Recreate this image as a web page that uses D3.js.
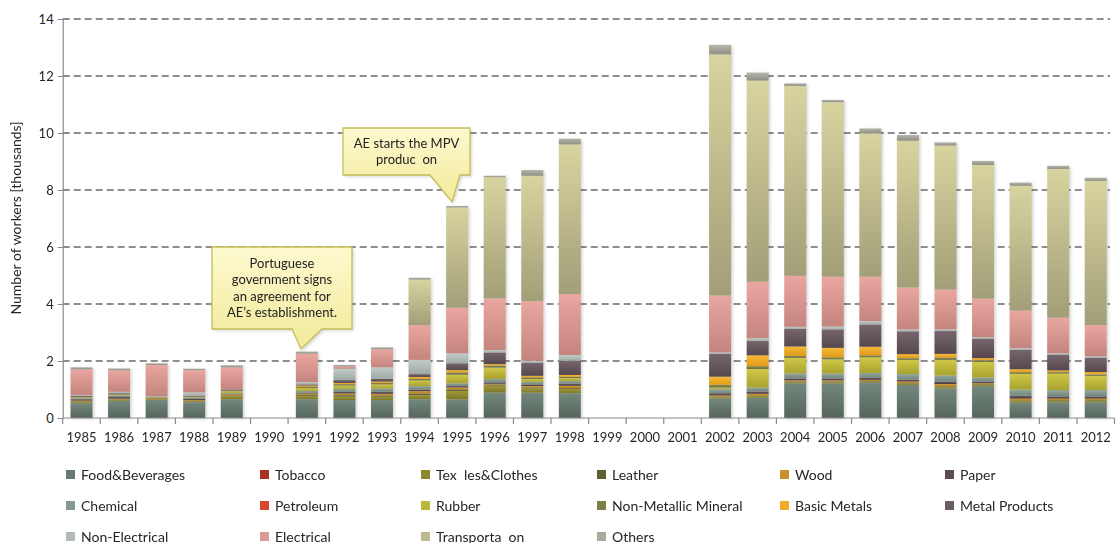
<!DOCTYPE html>
<html>
<head>
<meta charset="utf-8">
<script src="https://cdn.jsdelivr.net/npm/d3@7/dist/d3.min.js"></script>
<style>
  html, body { margin: 0; padding: 0; background: #fff; }
  svg { display: block; font-family: Lato, "Open Sans", sans-serif; }
  text { white-space: pre; }
</style>
</head>
<body>
<svg id="chart" width="1116" height="543"></svg>
<script>
// Workers employed by industry sector, thousands, 1985-2012
const years = d3.range(1985, 2013);

const foodBeverages = [0.52,0.60,0.63,0.55,0.66,0,0.66,0.63,0.63,0.66,0.65,0.89,0.89,0.87,0,0,0,0.68,0.71,1.22,1.22,1.24,1.16,1.04,1.12,0.54,0.55,0.55];
const tobacco       = [0,0,0,0,0,0,0,0,0,0,0,0,0,0,0,0,0,0,0,0,0,0,0,0,0,0,0,0];
const textiles      = [0.04,0.03,0.03,0.03,0.10,0,0.12,0.12,0.12,0.15,0.30,0.25,0.15,0.15,0,0,0,0.05,0.06,0.04,0.04,0.04,0.04,0.05,0.04,0.06,0.06,0.06];
const leather       = [0.02,0.02,0,0.02,0.02,0,0.04,0.05,0.04,0.05,0.05,0.03,0.03,0.03,0,0,0,0.02,0.02,0.02,0.02,0.02,0.02,0.02,0.02,0.02,0.02,0.02];
const wood          = [0.03,0.03,0.03,0.03,0.05,0,0.04,0.06,0.06,0.08,0.07,0.03,0.05,0.08,0,0,0,0.04,0.06,0.04,0.04,0.04,0.06,0.08,0.04,0.06,0.05,0.05];
const paper         = [0.05,0.06,0.02,0.05,0.02,0,0.03,0.06,0.07,0.06,0.05,0.05,0.06,0.07,0,0,0,0.08,0.08,0.07,0.07,0.07,0.06,0.08,0.06,0.10,0.08,0.08];
const chemical      = [0.03,0.04,0.01,0.03,0.02,0,0.06,0.10,0.12,0.12,0.10,0.12,0.09,0.10,0,0,0,0.14,0.14,0.17,0.17,0.17,0.20,0.22,0.14,0.22,0.22,0.22];
const petroleum     = [0,0,0,0,0,0,0,0,0,0,0,0,0,0,0,0,0,0,0,0,0,0,0,0,0,0,0,0];
const rubber        = [0.02,0.02,0.02,0.02,0.07,0,0.10,0.12,0.14,0.20,0.30,0.40,0.10,0.10,0,0,0,0.06,0.65,0.55,0.50,0.55,0.50,0.55,0.55,0.55,0.58,0.50];
const nonMetallic   = [0.02,0.02,0,0.01,0.01,0,0.05,0.05,0.05,0.06,0.08,0.07,0.06,0.05,0,0,0,0.10,0.10,0.07,0.07,0.07,0.06,0.08,0.06,0.06,0.05,0.05];
const basicMetals   = [0.01,0.01,0,0.01,0.01,0,0.04,0.04,0.05,0.06,0.08,0.05,0.05,0.06,0,0,0,0.28,0.38,0.33,0.33,0.30,0.14,0.13,0.07,0.10,0.06,0.08];
const metalProducts = [0.03,0.04,0.01,0.03,0.04,0,0.04,0.10,0.10,0.10,0.24,0.41,0.46,0.50,0,0,0,0.80,0.50,0.62,0.65,0.78,0.80,0.80,0.68,0.68,0.55,0.50];
const nonElectrical = [0.04,0.05,0.02,0.12,0,0,0.08,0.40,0.40,0.50,0.35,0.08,0.07,0.20,0,0,0,0.05,0.10,0.07,0.10,0.12,0.07,0.06,0.05,0.06,0.05,0.05];
const electrical    = [0.90,0.75,1.09,0.78,0.78,0,1.00,0.08,0.63,1.22,1.60,1.82,2.09,2.14,0,0,0,2.00,1.98,1.79,1.75,1.56,1.47,1.40,1.36,1.32,1.25,1.10];
const transportation= [0,0,0,0,0,0,0,0,0,1.60,3.52,4.25,4.40,5.25,0,0,0,8.46,7.06,6.66,6.12,5.03,5.15,5.05,4.69,4.38,5.22,5.06];
const others        = [0.07,0.07,0.06,0.05,0.07,0,0.07,0.05,0.07,0.06,0.05,0.05,0.20,0.20,0,0,0,0.33,0.28,0.09,0.08,0.17,0.20,0.11,0.14,0.11,0.11,0.11];

const yTicks = [0, 2, 4, 6, 8, 10, 12, 14];

// series in stacking order (bottom to top); colours: [legend, top of gradient, bottom of gradient]
const series = [
  { name: "Food&Beverages",        values: foodBeverages,  c: ["#687a6f", "#74887d", "#55655b"] },
  { name: "Tobacco",               values: tobacco,        c: ["#a83222", "#b53a28", "#8e2a1c"] },
  { name: "Tex  les&Clothes",      values: textiles,       c: ["#8c882e", "#a09a3a", "#7c7828"] },
  { name: "Leather",               values: leather,        c: ["#5f6032", "#6e6e3c", "#54552c"] },
  { name: "Wood",                  values: wood,           c: ["#c8912a", "#d9a035", "#b07a1a"] },
  { name: "Paper",                 values: paper,          c: ["#5c4d53", "#6a5a60", "#4a3c42"] },
  { name: "Chemical",              values: chemical,       c: ["#879990", "#93a69c", "#72857b"] },
  { name: "Petroleum",             values: petroleum,      c: ["#d84a30", "#e0563a", "#c03a22"] },
  { name: "Rubber",                values: rubber,         c: ["#bdb63d", "#cfc848", "#a8a230"] },
  { name: "Non-Metallic Mineral",  values: nonMetallic,    c: ["#7d7e47", "#8b8c52", "#6c6d3c"] },
  { name: "Basic Metals",          values: basicMetals,    c: ["#f0ac28", "#f7b935", "#e09a18"] },
  { name: "Metal Products",        values: metalProducts,  c: ["#6b5d64", "#76656c", "#56474e"] },
  { name: "Non-Electrical",        values: nonElectrical,  c: ["#b2bbb7", "#c3cbc7", "#9eaaa5"] },
  { name: "Electrical",            values: electrical,     c: ["#d99a95", "#eaa6a0", "#c4857e"] },
  { name: "Transporta  on",        values: transportation, c: ["#bdba90", "#d8d4a0", "#a29e77"] },
  { name: "Others",                values: others,         c: ["#a9a9a0", "#b5b5aa", "#8f8f85"] }
];

const callouts = [
  { lines: ["Portuguese", "government signs", "an agreement for", "AE\u2019s establishment."],
    box: [212, 247, 352, 329], base: [292, 322], tip: [301, 349] },
  { lines: ["AE starts the MPV", "produc  on"],
    box: [343, 128, 470, 175], base: [430, 460], tip: [452, 202] }
];

const svg = d3.select("#chart");
const defs = svg.append("defs");

const margin = { left: 62.7, right: 1114.5, top: 19, bottom: 418 };

const x = d3.scaleBand().domain(years).range([margin.left, margin.right]).paddingInner(0.415).paddingOuter(0.2075);
const y = d3.scaleLinear().domain([0, 14]).range([margin.bottom, margin.top]);

// table for the stack
const table = years.map((yr, i) => {
  const row = { year: yr };
  series.forEach(s => { row[s.name] = s.values[i]; });
  return row;
});
const stacked = d3.stack().keys(series.map(s => s.name))(table);

// gradients per series
series.forEach((s, i) => {
  const g = defs.append("linearGradient").attr("id", "grad" + i)
    .attr("x1", 0).attr("y1", 0).attr("x2", 0).attr("y2", 1);
  g.append("stop").attr("offset", "0%").attr("stop-color", s.c[1]);
  g.append("stop").attr("offset", "100%").attr("stop-color", s.c[2]);
});
const cg = defs.append("linearGradient").attr("id", "calloutFill")
  .attr("x1", 0).attr("y1", 0).attr("x2", 0).attr("y2", 1);
cg.append("stop").attr("offset", "0%").attr("stop-color", "#fdf9cf");
cg.append("stop").attr("offset", "100%").attr("stop-color", "#f2ea9a");

const blur = defs.append("filter").attr("id", "soft").attr("x", "-20%").attr("y", "-20%").attr("width", "140%").attr("height", "140%");
blur.append("feGaussianBlur").attr("stdDeviation", 1.4);

// gridlines
svg.append("g")
  .selectAll("line")
  .data(yTicks.filter(d => d > 0))
  .join("line")
  .attr("x1", margin.left).attr("x2", 1110)
  .attr("y1", d => y(d)).attr("y2", d => y(d))
  .attr("stroke", "#8e8e8e").attr("stroke-width", 1.8)
  .attr("stroke-dasharray", "7,4");

// soft shadow under each bar
const totals = stacked[stacked.length - 1];
svg.append("g").attr("filter", "url(#soft)")
  .selectAll("rect")
  .data(totals.filter(d => d[1] > 0))
  .join("rect")
  .attr("x", d => x(d.data.year) + 1.5)
  .attr("y", d => y(d[1]) + 1)
  .attr("width", x.bandwidth())
  .attr("height", d => y(0) - y(d[1]))
  .attr("fill", "#000").attr("opacity", 0.18);

// stacked bars
svg.append("g")
  .selectAll("g")
  .data(stacked)
  .join("g")
  .attr("fill", (d, i) => `url(#grad${i})`)
  .selectAll("rect")
  .data(d => d.filter(p => p[1] - p[0] > 0))
  .join("rect")
  .attr("x", d => x(d.data.year))
  .attr("y", d => y(d[1]))
  .attr("width", x.bandwidth())
  .attr("height", d => y(d[0]) - y(d[1]));

// y axis
const yAxis = svg.append("g").attr("transform", `translate(${margin.left},0)`)
  .call(d3.axisLeft(y).tickValues(yTicks).tickSize(5).tickPadding(4).tickFormat(d3.format("d")));
yAxis.select(".domain").attr("stroke", "#8a8a8a").attr("stroke-width", 1.2);
yAxis.selectAll(".tick line").attr("stroke", "#8a8a8a");
yAxis.selectAll(".tick text").attr("font-size", 13).attr("fill", "#262626").attr("font-family", "Lato, sans-serif");

// x axis: ticks between categories
const xg = svg.append("g").attr("transform", `translate(0,${margin.bottom})`);
xg.append("line").attr("x1", margin.left).attr("x2", margin.right)
  .attr("stroke", "#8a8a8a").attr("stroke-width", 1.2);
const step = x.step();
xg.selectAll("line.tk")
  .data(d3.range(years.length + 1))
  .join("line").attr("class", "tk")
  .attr("x1", i => margin.left + i * step).attr("x2", i => margin.left + i * step)
  .attr("y1", 0).attr("y2", 6)
  .attr("stroke", "#8a8a8a").attr("stroke-width", 1.2);
xg.selectAll("text")
  .data(years)
  .join("text")
  .attr("x", d => x(d) + x.bandwidth() / 2)
  .attr("y", 24)
  .attr("text-anchor", "middle")
  .attr("font-size", 13).attr("fill", "#262626")
  .text(d => d);

// y axis title
svg.append("text")
  .attr("transform", "translate(21,218) rotate(-90)")
  .attr("text-anchor", "middle")
  .attr("font-size", 14).attr("fill", "#262626")
  .text("Number of workers [thousands]");

// callouts
callouts.forEach(c => {
  const [x0, y0, x1, y1] = c.box;
  const p = d3.path();
  p.moveTo(x0, y0); p.lineTo(x1, y0); p.lineTo(x1, y1);
  p.lineTo(c.base[1], y1); p.lineTo(c.tip[0], c.tip[1]); p.lineTo(c.base[0], y1);
  p.lineTo(x0, y1); p.closePath();
  svg.append("path").attr("d", p.toString())
    .attr("fill", "#000").attr("opacity", 0.15).attr("filter", "url(#soft)")
    .attr("transform", "translate(2,2)");
  svg.append("path").attr("d", p.toString())
    .attr("fill", "url(#calloutFill)").attr("stroke", "#c4bd58").attr("stroke-width", 1.3);
  const cx = (x0 + x1) / 2;
  const lh = 16.3;
  const startY = (y0 + y1) / 2 - (c.lines.length - 1) * lh / 2 + 4.5;
  c.lines.forEach((t, k) => {
    svg.append("text").attr("x", cx).attr("y", startY + k * lh)
      .attr("text-anchor", "middle").attr("font-size", 13).attr("fill", "#222")
      .text(t);
  });
});

// legend (three rows, six columns)
const colX = [66, 260, 421, 597, 780, 945];
const rowY = [475, 506, 537];
const legend = svg.append("g");
series.forEach((s, i) => {
  const cx = colX[i % 6], cy = rowY[Math.floor(i / 6)];
  legend.append("rect").attr("x", cx).attr("y", cy - 5).attr("width", 9).attr("height", 9).attr("fill", s.c[0]);
  legend.append("text").attr("x", cx + 15).attr("y", cy + 4.5)
    .attr("font-size", 14).attr("fill", "#262626").text(s.name);
});
</script>
</body>
</html>
